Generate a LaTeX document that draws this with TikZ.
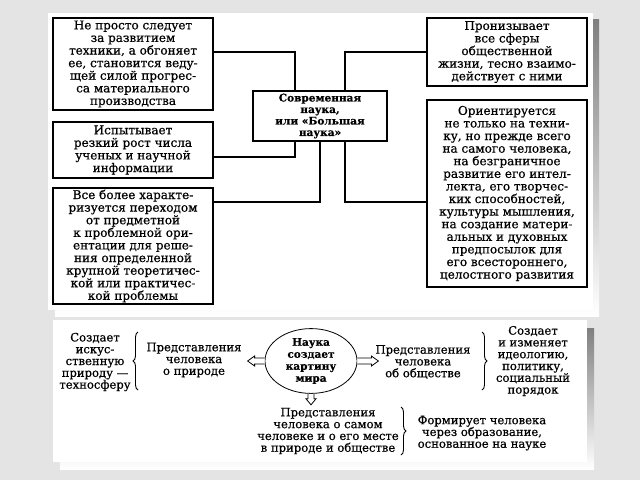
\documentclass[tikz,border=0pt]{standalone}
\usepackage{fontspec}
\setmainfont{DejaVu Serif}[FakeBold=0.6]
\usetikzlibrary{decorations.pathreplacing,shapes.geometric}
\definecolor{bgc}{RGB}{228,228,228}
\definecolor{shade}{RGB}{112,112,112}
\begin{document}
\begin{tikzpicture}[x=1pt,y=-1pt,
  box/.style={draw=black, line width=1.2pt, fill=white, align=center, inner sep=0pt,
    font=\fontsize{12}{12.6}\selectfont},
  conn/.style={draw=black, line width=1.2pt},
  lowtxt/.style={align=center, inner sep=0pt, font=\fontsize{11.6}{11.8}\selectfont},
  brc/.style={decorate, decoration={brace, amplitude=5pt}, line width=0.9pt},
  blockarrow/.style={draw=black, line width=0.8pt, fill=white}]
\useasboundingbox (0,0) rectangle (640,480);
\fill[bgc] (0,0) rectangle (640,480);
% panels
\fill[shade] (55,19) rectangle (599,316);
\fill[white] (48,13) rectangle (593,310);
\fill[shade] (60,328) rectangle (594,469);
\fill[white] (53,320) rectangle (587,462);

% upper boxes
\node[box, minimum width=160pt, minimum height=92pt] (A) at (133,64)
  {Не просто следует\\за развитием\\техники, а обгоняет\\ее, становится веду-\\щей силой прогрес-\\са материального\\производства};
\node[box, minimum width=160pt, minimum height=56pt] (B) at (133,150)
  {Испытывает\\резкий рост числа\\ученых и научной\\информации};
\node[box, minimum width=160pt, minimum height=116pt] (C) at (133,246)
  {Все более характе-\\ризуется переходом\\от предметной\\к проблемной ори-\\ентации для реше-\\ния определенной\\крупной теоретичес-\\кой или практичес-\\кой проблемы};
\node[box, minimum width=134pt, minimum height=50pt, font=\bfseries\fontsize{10.5}{11.5}\selectfont] (ctr) at (320,116)
  {Современная\\наука,\\или «Большая\\наука»};
\node[box, minimum width=160pt, minimum height=68pt] (RT) at (507,52)
  {Пронизывает\\все сферы\\общественной\\жизни, тесно взаимо-\\действует с ними};
\node[box, minimum width=160pt, minimum height=187pt] (RB) at (507,193.5)
  {Ориентируется\\не только на техни-\\ку, но прежде всего\\на самого человека,\\на безграничное\\развитие его интел-\\лекта, его творчес-\\ких способностей,\\культуры мышления,\\на создание матери-\\альных и духовных\\предпосылок для\\его всестороннего,\\целостного развития};

% connectors
\coordinate (jA) at (295,52);
\coordinate (jB) at (295,157);
\coordinate (jC) at (320,202);
\coordinate (jR) at (345,202);
\draw[conn] (A.east |- jA) -- (jA) -- (jA |- ctr.north);
\draw[conn] (RT.west) -- (RT.west -| jR) -- (jR |- ctr.north);
\draw[conn] (B.east |- jB) -- (jB) -- (jB |- ctr.south);
\draw[conn] (C.east |- jC) -- (jC) -- (jC |- ctr.south);
\draw[conn] (RB.west |- jR) -- (jR) -- (jR |- ctr.south);

% lower panel
\node[ellipse, draw=black, line width=0.8pt, minimum width=92pt, minimum height=60pt, inner sep=0pt,
  align=center, font=\bfseries\fontsize{10.5}{12}\selectfont] (sci) at (311,361)
  {Наука\\создает\\картину\\мира};
\node[lowtxt] (t1) at (95,362) {Создает\\искус-\\ственную\\природу —\\техносферу};
\node[lowtxt] (t2) at (194,360) {Представления\\человека\\о природе};
\node[lowtxt] (t3) at (423,362) {Представления\\человека\\об обществе};
\node[lowtxt] (t4) at (533,361) {Создает\\и изменяет\\идеологию,\\политику,\\социальный\\порядок};
\node[lowtxt] (t5) at (328,431) {Представления\\человека о самом\\человеке и о его месте\\в природе и обществе};
\node[lowtxt] (t6) at (482,433) {Формирует человека\\через образование,\\основанное на науке};

% braces
\coordinate (b1t) at (138,332); \coordinate (b1b) at (138,390);
\coordinate (b2t) at (482,332); \coordinate (b2b) at (482,390);
\coordinate (b3t) at (401,407); \coordinate (b3b) at (401,455);
\draw[brc] (b1b) -- (b1t);
\draw[brc] (b2t) -- (b2b);
\draw[brc] (b3t) -- (b3b);

% hollow block arrows
\draw[blockarrow] (sci.west) ++(0,-3) -- ++(-10,0) -- ++(0,-2) -- ++(-7,5) -- ++(7,5) -- ++(0,-2) -- ++(10,0);
\draw[blockarrow] (sci.east) ++(0,-3) -- ++(14,0) -- ++(0,-2) -- ++(7,5) -- ++(-7,5) -- ++(0,-2) -- ++(-14,0);
\draw[blockarrow] (sci.south) ++(-3,0) -- ++(0,5) -- ++(-2,0) -- ++(5,6) -- ++(5,-6) -- ++(-2,0) -- ++(0,-5);
\end{tikzpicture}
\end{document}
